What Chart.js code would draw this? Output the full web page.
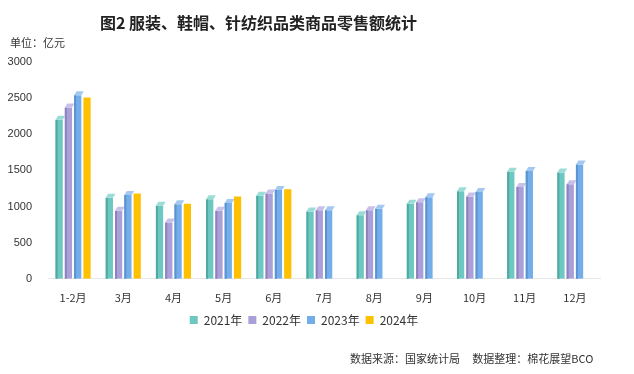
<!DOCTYPE html>
<html>
<head>
<meta charset="utf-8">
<script src="https://cdn.jsdelivr.net/npm/chart.js@4.4.0/dist/chart.umd.min.js"></script>
<style>
  body { margin: 0; background: #fff; }
  #wrap { position: relative; width: 634px; height: 374px; }
  #titulo { position: absolute; left: 100px; top: 10px; white-space: nowrap;
    font: bold 16px "Noto Sans CJK SC", sans-serif; color: #222; }
  #unidad { position: absolute; left: 10px; top: 34px; font: 11px "Noto Sans CJK SC", sans-serif; color: #333; }
  #fuente { position: absolute; left: 350px; top: 350px; font: 11px "Noto Sans CJK SC", sans-serif; color: #333; white-space: pre; }
</style>
</head>
<body>
<div id="wrap">
  <canvas id="myChart" width="634" height="374"></canvas>
  <div id="titulo">图2 服装、鞋帽、针纺织品类商品零售额统计</div>
  <div id="unidad">单位：亿元</div>
  <div id="fuente">数据来源：国家统计局     数据整理：棉花展望BCO</div>
</div>
<script>
let meses = ['1-2月', '3月', '4月', '5月', '6月', '7月', '8月', '9月', '10月', '11月', '12月'];
let datos2021 = [2200, 1120, 1010, 1100, 1150, 930, 880, 1040, 1210, 1480, 1470];
let datos2022 = [2370, 940, 780, 940, 1180, 950, 950, 1060, 1140, 1270, 1310];
let datos2023 = [2540, 1160, 1030, 1050, 1230, 950, 970, 1130, 1200, 1490, 1580];
let datos2024 = [2510, 1180, 1040, 1140, 1240];
let ticksY = [0, 500, 1000, 1500, 2000, 2500, 3000];

// pequeño efecto 3D sobre cada barra
let barras3d = {
    id: 'barras3d',
    afterDatasetsDraw(chart) {
        let ctx = chart.ctx;
        chart.data.datasets.forEach((ds, i) => {
            let meta = chart.getDatasetMeta(i);
            if (!ds.lado) return;
            meta.data.forEach((bar) => {
                let p = bar.getProps(['x', 'y', 'base', 'width'], true);
                let izq = p.x - p.width / 2, der = p.x + p.width / 2, d = 2.5;
                ctx.save();
                ctx.fillStyle = ds.lado;
                ctx.fillRect(izq, p.y, 2, p.base - p.y);
                ctx.fillStyle = ds.tapa;
                ctx.beginPath();
                ctx.moveTo(izq, p.y);
                ctx.lineTo(der, p.y);
                ctx.lineTo(der + d, p.y - d * 1.6);
                ctx.lineTo(izq + d, p.y - d * 1.6);
                ctx.closePath();
                ctx.fill();
                ctx.restore();
            });
        });
    }
};

let config = {
    type: 'bar',
    data: {
        labels: meses,
        datasets: [
            { label: '2021年', data: datos2021, backgroundColor: '#6cc8c0', lado: '#4fa9a1', tapa: '#9adcd6' },
            { label: '2022年', data: datos2022, backgroundColor: '#ab9fd9', lado: '#8e82bd', tapa: '#c9c0ea' },
            { label: '2023年', data: datos2023, backgroundColor: '#74aeea', lado: '#5a93cf', tapa: '#a3c9f2' },
            { label: '2024年', data: datos2024, backgroundColor: '#ffc000' }
        ]
    },
    options: {
        responsive: false,
        animation: false,
        layout: { padding: { left: 8, right: 34, top: 62, bottom: 38 } },
        categoryPercentage: 0.74,
        barPercentage: 0.78,
        scales: {
            x: {
                grid: { display: false },
                border: { color: '#e6e6e6' },
                ticks: { color: '#333', font: { family: 'Noto Sans CJK SC', size: 11 }, padding: 4 }
            },
            y: {
                min: 0, max: 3000,
                afterBuildTicks: (axis) => { axis.ticks = ticksY.map(v => ({ value: v })); },
                afterFit: (axis) => { axis.width = 40; },
                grid: { display: false },
                border: { display: false },
                ticks: { color: '#333', font: { family: 'Liberation Sans', size: 11 }, padding: 8,
                    callback: (v) => String(v) }
            }
        },
        plugins: {
            legend: {
                position: 'bottom',
                labels: { boxWidth: 8, boxHeight: 8, padding: 6, color: '#333',
                    font: { family: 'Noto Sans CJK SC', size: 12 } }
            },
            tooltip: { enabled: false }
        }
    },
    plugins: [barras3d]
};

let myChart = new Chart(document.getElementById('myChart'), config);
</script>
</body>
</html>
